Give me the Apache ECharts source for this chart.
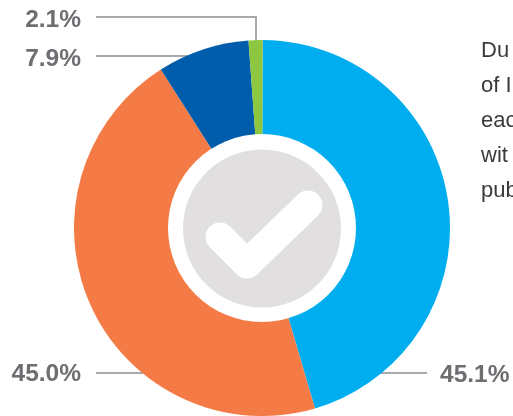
<!DOCTYPE html>
<html><head><meta charset="utf-8">
<style>html,body{margin:0;padding:0;background:#fff;overflow:hidden}#c{width:513px;height:416px}</style>
<script src="https://cdn.jsdelivr.net/npm/echarts@6/dist/echarts.min.js"></script>
</head><body><div id="c"></div>
<script>
const categories = ['A','B','C','D'];
const values = [45.4, 45.5, 7.9, 1.2];
const labelTexts = ['45.1%','45.0%','7.9%','2.1%'];
const colors = ['#00aeef','#f47b45','#005dab','#8dc63f'];
const bodyLines = ['Du','of I','eac','wit','pub'];

// label anchor + leader polyline for each slice, in pixels
const labelX = [440, 81, 81, 81];
const labelY = [375, 374, 59, 20];
const labelAlign = ['left','right','right','right'];
const leaders = [
  [[427,373],[380,373]],
  [[143,373],[96,373]],
  [[197,56],[96,56]],
  [[256,42],[256,17],[96,17]]
];

const chart = echarts.init(document.getElementById('c'), null, {renderer:'canvas'});
chart.setOption({
  animation:false,
  backgroundColor:'#fff',
  graphic:[
    {type:'polyline',z:10,shape:{points:[[220,237],[247,264],[308,205]]},
     style:{fill:null,stroke:'#fff',lineWidth:29,lineCap:'round',lineJoin:'round'}},
    {type:'text',left:481,top:33,z:10,style:{
      text:bodyLines.join('\n'),font:'22px "Liberation Sans", Arial, sans-serif',
      fill:'#3a3a3c',lineHeight:35}}
  ],
  series:[
    {type:'pie',center:[262,228],radius:[0,188],startAngle:89.8,clockwise:true,z:2,silent:true,
     data:categories.map((n,i)=>({name:n,value:values[i],itemStyle:{color:colors[i]},
       label:{formatter:labelTexts[i]}})),
     label:{show:true,position:'outer',overflow:'none',color:'#6d6e71',fontSize:24.5,fontWeight:'bold',
       fontFamily:'"Liberation Sans", Arial, sans-serif'},
     labelLine:{show:true,lineStyle:{color:'#a7a9ac',width:2}},
     labelLayout:p=>({x:labelX[p.dataIndex],y:labelY[p.dataIndex],
       align:labelAlign[p.dataIndex],verticalAlign:'middle',
       labelLinePoints:leaders[p.dataIndex],hideOverlap:false})
    },
    {type:'pie',center:[262,228],radius:[0,94],z:3,silent:true,label:{show:false},labelLine:{show:false},
     data:[{value:1,itemStyle:{color:'#fff'}}]},
    {type:'pie',center:[262,228.5],radius:[0,79],z:4,silent:true,label:{show:false},labelLine:{show:false},
     data:[{value:1,itemStyle:{color:'#e1dfdf'}}]}
  ]
});
</script></body></html>
